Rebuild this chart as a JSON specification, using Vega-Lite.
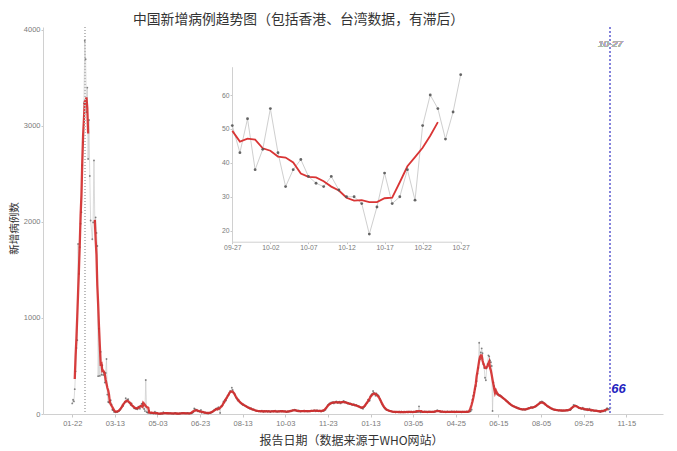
{
"$schema":"https://vega.github.io/schema/vega-lite/v6.json",
"width":620,"height":387,"autosize":"none",
"padding":{"left":43,"top":27,"right":14,"bottom":37},
"background":"white",
"config":{"view":{"stroke":null},"axis":{"grid":false,"domainColor":"#d0d0d0","tickColor":"#c8c8c8","labelColor":"#7a7a7a","labelFont":"Liberation Sans","titleFont":"Noto Sans CJK SC","titleFontWeight":"normal","titleColor":"#333333"}},
"title":{"text":"中国新增病例趋势图（包括香港、台湾数据，有滞后）","anchor":"start","frame":"group","dx":90,"offset":-1,"fontSize":13.8,"font":"Noto Sans CJK SC","fontWeight":"normal","color":"#333333"},
"data":{"values":[
{"d":"2020-01-22","n":110},{"d":"2020-01-23","n":149},{"d":"2020-01-24","n":131},{"d":"2020-01-25","n":259},{"d":"2020-01-26","n":444},{"d":"2020-01-27","n":688},{"d":"2020-01-28","n":769},{"d":"2020-01-29","n":1771},{"d":"2020-01-30","n":1459},{"d":"2020-01-31","n":1737},
{"d":"2020-02-01","n":1982},{"d":"2020-02-02","n":2102},{"d":"2020-02-03","n":2590},{"d":"2020-02-04","n":2829},{"d":"2020-02-05","n":3235},{"d":"2020-02-06","n":3887},{"d":"2020-02-07","n":3694},{"d":"2020-02-08","n":3143},{"d":"2020-02-09","n":3399},{"d":"2020-02-10","n":2656},{"d":"2020-02-11","n":3062},{"d":"2020-02-12","n":2478},{"d":"2020-02-13","n":2015},{"d":"2020-02-14","n":null},{"d":"2020-02-15","n":1820},{"d":"2020-02-16","n":1995},{"d":"2020-02-17","n":2641},{"d":"2020-02-18","n":2009},{"d":"2020-02-19","n":2048},{"d":"2020-02-20","n":1886},{"d":"2020-02-21","n":1749},{"d":"2020-02-22","n":394},{"d":"2020-02-23","n":889},{"d":"2020-02-24","n":397},{"d":"2020-02-25","n":648},{"d":"2020-02-26","n":409},{"d":"2020-02-27","n":508},{"d":"2020-02-28","n":406},{"d":"2020-02-29","n":433},
{"d":"2020-03-01","n":327},{"d":"2020-03-02","n":427},{"d":"2020-03-03","n":573},{"d":"2020-03-04","n":202},{"d":"2020-03-05","n":125},{"d":"2020-03-06","n":119},{"d":"2020-03-07","n":139},{"d":"2020-03-08","n":143},{"d":"2020-03-09","n":99},{"d":"2020-03-10","n":44},{"d":"2020-03-11","n":40},{"d":"2020-03-12","n":22},{"d":"2020-03-13","n":26},{"d":"2020-03-14","n":18},{"d":"2020-03-15","n":25},{"d":"2020-03-16","n":20},{"d":"2020-03-17","n":28},{"d":"2020-03-18","n":30},{"d":"2020-03-19","n":40},{"d":"2020-03-20","n":55},{"d":"2020-03-21","n":70},{"d":"2020-03-22","n":90},{"d":"2020-03-23","n":85},{"d":"2020-03-24","n":110},{"d":"2020-03-25","n":125},{"d":"2020-03-26","n":165},{"d":"2020-03-27","n":130},{"d":"2020-03-28","n":150},{"d":"2020-03-29","n":155},{"d":"2020-03-30","n":120},{"d":"2020-03-31","n":110},
{"d":"2020-04-01","n":95},{"d":"2020-04-02","n":110},{"d":"2020-04-03","n":85},{"d":"2020-04-04","n":80},{"d":"2020-04-05","n":60},{"d":"2020-04-06","n":60},{"d":"2020-04-07","n":55},{"d":"2020-04-08","n":55},{"d":"2020-04-09","n":50},{"d":"2020-04-10","n":75},{"d":"2020-04-11","n":72},{"d":"2020-04-12","n":55},{"d":"2020-04-13","n":80},{"d":"2020-04-14","n":105},{"d":"2020-04-15","n":110},{"d":"2020-04-16","n":85},{"d":"2020-04-17","n":52},{"d":"2020-04-18","n":30},{"d":"2020-04-19","n":354},{"d":"2020-04-20","n":20},{"d":"2020-04-21","n":15},{"d":"2020-04-22","n":14},{"d":"2020-04-23","n":32},{"d":"2020-04-24","n":12},{"d":"2020-04-25","n":8},{"d":"2020-04-26","n":14},{"d":"2020-04-27","n":12},{"d":"2020-04-28","n":5},{"d":"2020-04-29","n":8},{"d":"2020-04-30","n":24},
{"d":"2020-05-01","n":5},{"d":"2020-05-02","n":14},{"d":"2020-05-03","n":3},{"d":"2020-05-04","n":4},{"d":"2020-05-05","n":2},{"d":"2020-05-06","n":3},{"d":"2020-05-07","n":3},{"d":"2020-05-08","n":5},{"d":"2020-05-09","n":3},{"d":"2020-05-10","n":18},{"d":"2020-05-11","n":8},{"d":"2020-05-12","n":9},{"d":"2020-05-13","n":8},{"d":"2020-05-14","n":10},{"d":"2020-05-15","n":8},{"d":"2020-05-16","n":7},{"d":"2020-05-17","n":6},{"d":"2020-05-18","n":10},{"d":"2020-05-19","n":6},{"d":"2020-05-20","n":5},{"d":"2020-05-21","n":4},{"d":"2020-05-22","n":3},{"d":"2020-05-23","n":5},{"d":"2020-05-24","n":12},{"d":"2020-05-25","n":8},{"d":"2020-05-26","n":4},{"d":"2020-05-27","n":3},{"d":"2020-05-28","n":3},{"d":"2020-05-29","n":5},{"d":"2020-05-30","n":3},{"d":"2020-05-31","n":7},
{"d":"2020-06-01","n":12},{"d":"2020-06-02","n":10},{"d":"2020-06-03","n":8},{"d":"2020-06-04","n":6},{"d":"2020-06-05","n":7},{"d":"2020-06-06","n":7},{"d":"2020-06-07","n":8},{"d":"2020-06-08","n":10},{"d":"2020-06-09","n":6},{"d":"2020-06-10","n":5},{"d":"2020-06-11","n":4},{"d":"2020-06-12","n":11},{"d":"2020-06-13","n":8},{"d":"2020-06-14","n":14},{"d":"2020-06-15","n":20},{"d":"2020-06-16","n":57},{"d":"2020-06-17","n":49},{"d":"2020-06-18","n":40},{"d":"2020-06-19","n":44},{"d":"2020-06-20","n":28},{"d":"2020-06-21","n":32},{"d":"2020-06-22","n":25},{"d":"2020-06-23","n":26},{"d":"2020-06-24","n":42},{"d":"2020-06-25","n":13},{"d":"2020-06-26","n":22},{"d":"2020-06-27","n":19},{"d":"2020-06-28","n":13},{"d":"2020-06-29","n":17},{"d":"2020-06-30","n":12},
{"d":"2020-07-01","n":8},{"d":"2020-07-02","n":10},{"d":"2020-07-03","n":6},{"d":"2020-07-04","n":12},{"d":"2020-07-05","n":9},{"d":"2020-07-06","n":15},{"d":"2020-07-07","n":18},{"d":"2020-07-08","n":22},{"d":"2020-07-09","n":30},{"d":"2020-07-10","n":45},{"d":"2020-07-11","n":40},{"d":"2020-07-12","n":55},{"d":"2020-07-13","n":48},{"d":"2020-07-14","n":60},{"d":"2020-07-15","n":70},{"d":"2020-07-16","n":55},{"d":"2020-07-17","n":10},{"d":"2020-07-18","n":80},{"d":"2020-07-19","n":85},{"d":"2020-07-20","n":95},{"d":"2020-07-21","n":130},{"d":"2020-07-22","n":120},{"d":"2020-07-23","n":150},{"d":"2020-07-24","n":140},{"d":"2020-07-25","n":170},{"d":"2020-07-26","n":190},{"d":"2020-07-27","n":200},{"d":"2020-07-28","n":215},{"d":"2020-07-29","n":240},{"d":"2020-07-30","n":230},{"d":"2020-07-31","n":275},
{"d":"2020-08-01","n":250},{"d":"2020-08-02","n":225},{"d":"2020-08-03","n":210},{"d":"2020-08-04","n":195},{"d":"2020-08-05","n":170},{"d":"2020-08-06","n":160},{"d":"2020-08-07","n":140},{"d":"2020-08-08","n":150},{"d":"2020-08-09","n":130},{"d":"2020-08-10","n":120},{"d":"2020-08-11","n":110},{"d":"2020-08-12","n":105},{"d":"2020-08-13","n":95},{"d":"2020-08-14","n":100},{"d":"2020-08-15","n":90},{"d":"2020-08-16","n":85},{"d":"2020-08-17","n":80},{"d":"2020-08-18","n":75},{"d":"2020-08-19","n":70},{"d":"2020-08-20","n":65},{"d":"2020-08-21","n":60},{"d":"2020-08-22","n":55},{"d":"2020-08-23","n":60},{"d":"2020-08-24","n":50},{"d":"2020-08-25","n":45},{"d":"2020-08-26","n":48},{"d":"2020-08-27","n":40},{"d":"2020-08-28","n":38},{"d":"2020-08-29","n":35},{"d":"2020-08-30","n":32},{"d":"2020-08-31","n":30},
{"d":"2020-09-01","n":28},{"d":"2020-09-02","n":32},{"d":"2020-09-03","n":25},{"d":"2020-09-04","n":30},{"d":"2020-09-05","n":35},{"d":"2020-09-06","n":27},{"d":"2020-09-07","n":22},{"d":"2020-09-08","n":30},{"d":"2020-09-09","n":26},{"d":"2020-09-10","n":33},{"d":"2020-09-11","n":28},{"d":"2020-09-12","n":24},{"d":"2020-09-13","n":31},{"d":"2020-09-14","n":27},{"d":"2020-09-15","n":20},{"d":"2020-09-16","n":25},{"d":"2020-09-17","n":32},{"d":"2020-09-18","n":28},{"d":"2020-09-19","n":26},{"d":"2020-09-20","n":30},{"d":"2020-09-21","n":35},{"d":"2020-09-22","n":24},{"d":"2020-09-23","n":28},{"d":"2020-09-24","n":22},{"d":"2020-09-25","n":30},{"d":"2020-09-26","n":26},{"d":"2020-09-27","n":33},{"d":"2020-09-28","n":29},{"d":"2020-09-29","n":25},{"d":"2020-09-30","n":31},
{"d":"2020-10-01","n":25},{"d":"2020-10-02","n":30},{"d":"2020-10-03","n":28},{"d":"2020-10-04","n":22},{"d":"2020-10-05","n":20},{"d":"2020-10-06","n":26},{"d":"2020-10-07","n":24},{"d":"2020-10-08","n":30},{"d":"2020-10-09","n":35},{"d":"2020-10-10","n":28},{"d":"2020-10-11","n":32},{"d":"2020-10-12","n":40},{"d":"2020-10-13","n":38},{"d":"2020-10-14","n":45},{"d":"2020-10-15","n":42},{"d":"2020-10-16","n":35},{"d":"2020-10-17","n":30},{"d":"2020-10-18","n":28},{"d":"2020-10-19","n":36},{"d":"2020-10-20","n":30},{"d":"2020-10-21","n":25},{"d":"2020-10-22","n":28},{"d":"2020-10-23","n":32},{"d":"2020-10-24","n":30},{"d":"2020-10-25","n":35},{"d":"2020-10-26","n":27},{"d":"2020-10-27","n":33},{"d":"2020-10-28","n":29},{"d":"2020-10-29","n":31},{"d":"2020-10-30","n":26},{"d":"2020-10-31","n":30},
{"d":"2020-11-01","n":28},{"d":"2020-11-02","n":32},{"d":"2020-11-03","n":35},{"d":"2020-11-04","n":30},{"d":"2020-11-05","n":33},{"d":"2020-11-06","n":38},{"d":"2020-11-07","n":36},{"d":"2020-11-08","n":29},{"d":"2020-11-09","n":34},{"d":"2020-11-10","n":40},{"d":"2020-11-11","n":31},{"d":"2020-11-12","n":28},{"d":"2020-11-13","n":35},{"d":"2020-11-14","n":30},{"d":"2020-11-15","n":27},{"d":"2020-11-16","n":33},{"d":"2020-11-17","n":36},{"d":"2020-11-18","n":30},{"d":"2020-11-19","n":40},{"d":"2020-11-20","n":45},{"d":"2020-11-21","n":60},{"d":"2020-11-22","n":80},{"d":"2020-11-23","n":95},{"d":"2020-11-24","n":100},{"d":"2020-11-25","n":110},{"d":"2020-11-26","n":105},{"d":"2020-11-27","n":120},{"d":"2020-11-28","n":115},{"d":"2020-11-29","n":125},{"d":"2020-11-30","n":110},
{"d":"2020-12-01","n":118},{"d":"2020-12-02","n":125},{"d":"2020-12-03","n":130},{"d":"2020-12-04","n":120},{"d":"2020-12-05","n":115},{"d":"2020-12-06","n":125},{"d":"2020-12-07","n":128},{"d":"2020-12-08","n":110},{"d":"2020-12-09","n":118},{"d":"2020-12-10","n":122},{"d":"2020-12-11","n":130},{"d":"2020-12-12","n":135},{"d":"2020-12-13","n":120},{"d":"2020-12-14","n":125},{"d":"2020-12-15","n":118},{"d":"2020-12-16","n":112},{"d":"2020-12-17","n":108},{"d":"2020-12-18","n":115},{"d":"2020-12-19","n":105},{"d":"2020-12-20","n":110},{"d":"2020-12-21","n":100},{"d":"2020-12-22","n":95},{"d":"2020-12-23","n":98},{"d":"2020-12-24","n":102},{"d":"2020-12-25","n":90},{"d":"2020-12-26","n":88},{"d":"2020-12-27","n":95},{"d":"2020-12-28","n":85},{"d":"2020-12-29","n":80},{"d":"2020-12-30","n":78},{"d":"2020-12-31","n":75},
{"d":"2021-01-01","n":70},{"d":"2021-01-02","n":65},{"d":"2021-01-03","n":60},{"d":"2021-01-04","n":55},{"d":"2021-01-05","n":70},{"d":"2021-01-06","n":80},{"d":"2021-01-07","n":95},{"d":"2021-01-08","n":110},{"d":"2021-01-09","n":120},{"d":"2021-01-10","n":150},{"d":"2021-01-11","n":135},{"d":"2021-01-12","n":140},{"d":"2021-01-13","n":185},{"d":"2021-01-14","n":200},{"d":"2021-01-15","n":210},{"d":"2021-01-16","n":240},{"d":"2021-01-17","n":222},{"d":"2021-01-18","n":205},{"d":"2021-01-19","n":190},{"d":"2021-01-20","n":215},{"d":"2021-01-21","n":200},{"d":"2021-01-22","n":195},{"d":"2021-01-23","n":185},{"d":"2021-01-24","n":160},{"d":"2021-01-25","n":140},{"d":"2021-01-26","n":120},{"d":"2021-01-27","n":100},{"d":"2021-01-28","n":85},{"d":"2021-01-29","n":70},{"d":"2021-01-30","n":60},{"d":"2021-01-31","n":50},
{"d":"2021-02-01","n":45},{"d":"2021-02-02","n":40},{"d":"2021-02-03","n":38},{"d":"2021-02-04","n":35},{"d":"2021-02-05","n":32},{"d":"2021-02-06","n":30},{"d":"2021-02-07","n":28},{"d":"2021-02-08","n":25},{"d":"2021-02-09","n":22},{"d":"2021-02-10","n":20},{"d":"2021-02-11","n":24},{"d":"2021-02-12","n":18},{"d":"2021-02-13","n":20},{"d":"2021-02-14","n":22},{"d":"2021-02-15","n":19},{"d":"2021-02-16","n":25},{"d":"2021-02-17","n":20},{"d":"2021-02-18","n":18},{"d":"2021-02-19","n":23},{"d":"2021-02-20","n":21},{"d":"2021-02-21","n":17},{"d":"2021-02-22","n":20},{"d":"2021-02-23","n":24},{"d":"2021-02-24","n":19},{"d":"2021-02-25","n":22},{"d":"2021-02-26","n":18},{"d":"2021-02-27","n":21},{"d":"2021-02-28","n":25},
{"d":"2021-03-01","n":22},{"d":"2021-03-02","n":18},{"d":"2021-03-03","n":25},{"d":"2021-03-04","n":20},{"d":"2021-03-05","n":17},{"d":"2021-03-06","n":23},{"d":"2021-03-07","n":19},{"d":"2021-03-08","n":26},{"d":"2021-03-09","n":21},{"d":"2021-03-10","n":24},{"d":"2021-03-11","n":20},{"d":"2021-03-12","n":80},{"d":"2021-03-13","n":22},{"d":"2021-03-14","n":18},{"d":"2021-03-15","n":25},{"d":"2021-03-16","n":21},{"d":"2021-03-17","n":19},{"d":"2021-03-18","n":23},{"d":"2021-03-19","n":27},{"d":"2021-03-20","n":20},{"d":"2021-03-21","n":24},{"d":"2021-03-22","n":18},{"d":"2021-03-23","n":22},{"d":"2021-03-24","n":26},{"d":"2021-03-25","n":20},{"d":"2021-03-26","n":23},{"d":"2021-03-27","n":19},{"d":"2021-03-28","n":25},{"d":"2021-03-29","n":21},{"d":"2021-03-30","n":24},{"d":"2021-03-31","n":20},
{"d":"2021-04-01","n":28},{"d":"2021-04-02","n":35},{"d":"2021-04-03","n":40},{"d":"2021-04-04","n":30},{"d":"2021-04-05","n":32},{"d":"2021-04-06","n":26},{"d":"2021-04-07","n":24},{"d":"2021-04-08","n":22},{"d":"2021-04-09","n":27},{"d":"2021-04-10","n":20},{"d":"2021-04-11","n":25},{"d":"2021-04-12","n":23},{"d":"2021-04-13","n":18},{"d":"2021-04-14","n":21},{"d":"2021-04-15","n":26},{"d":"2021-04-16","n":22},{"d":"2021-04-17","n":19},{"d":"2021-04-18","n":24},{"d":"2021-04-19","n":20},{"d":"2021-04-20","n":27},{"d":"2021-04-21","n":23},{"d":"2021-04-22","n":21},{"d":"2021-04-23","n":25},{"d":"2021-04-24","n":18},{"d":"2021-04-25","n":22},{"d":"2021-04-26","n":26},{"d":"2021-04-27","n":20},{"d":"2021-04-28","n":24},{"d":"2021-04-29","n":19},{"d":"2021-04-30","n":23},
{"d":"2021-05-01","n":21},{"d":"2021-05-02","n":18},{"d":"2021-05-03","n":25},{"d":"2021-05-04","n":20},{"d":"2021-05-05","n":23},{"d":"2021-05-06","n":19},{"d":"2021-05-07","n":22},{"d":"2021-05-08","n":26},{"d":"2021-05-09","n":20},{"d":"2021-05-10","n":24},{"d":"2021-05-11","n":28},{"d":"2021-05-12","n":25},{"d":"2021-05-13","n":30},{"d":"2021-05-14","n":45},{"d":"2021-05-15","n":150},{"d":"2021-05-16","n":190},{"d":"2021-05-17","n":222},{"d":"2021-05-18","n":260},{"d":"2021-05-19","n":291},{"d":"2021-05-20","n":343},{"d":"2021-05-21","n":420},{"d":"2021-05-22","n":480},{"d":"2021-05-23","n":742},{"d":"2021-05-24","n":570},{"d":"2021-05-25","n":640},{"d":"2021-05-26","n":684},{"d":"2021-05-27","n":632},{"d":"2021-05-28","n":520},{"d":"2021-05-29","n":480},{"d":"2021-05-30","n":378},{"d":"2021-05-31","n":351},
{"d":"2021-06-01","n":480},{"d":"2021-06-02","n":520},{"d":"2021-06-03","n":611},{"d":"2021-06-04","n":600},{"d":"2021-06-05","n":559},{"d":"2021-06-06","n":540},{"d":"2021-06-07","n":500},{"d":"2021-06-08","n":31},{"d":"2021-06-09","n":330},{"d":"2021-06-10","n":290},{"d":"2021-06-11","n":250},{"d":"2021-06-12","n":230},{"d":"2021-06-13","n":210},{"d":"2021-06-14","n":200},{"d":"2021-06-15","n":205},{"d":"2021-06-16","n":190},{"d":"2021-06-17","n":195},{"d":"2021-06-18","n":185},{"d":"2021-06-19","n":180},{"d":"2021-06-20","n":170},{"d":"2021-06-21","n":165},{"d":"2021-06-22","n":155},{"d":"2021-06-23","n":150},{"d":"2021-06-24","n":140},{"d":"2021-06-25","n":135},{"d":"2021-06-26","n":125},{"d":"2021-06-27","n":120},{"d":"2021-06-28","n":110},{"d":"2021-06-29","n":105},{"d":"2021-06-30","n":95},
{"d":"2021-07-01","n":90},{"d":"2021-07-02","n":85},{"d":"2021-07-03","n":80},{"d":"2021-07-04","n":78},{"d":"2021-07-05","n":72},{"d":"2021-07-06","n":70},{"d":"2021-07-07","n":65},{"d":"2021-07-08","n":60},{"d":"2021-07-09","n":62},{"d":"2021-07-10","n":55},{"d":"2021-07-11","n":52},{"d":"2021-07-12","n":50},{"d":"2021-07-13","n":48},{"d":"2021-07-14","n":45},{"d":"2021-07-15","n":50},{"d":"2021-07-16","n":47},{"d":"2021-07-17","n":44},{"d":"2021-07-18","n":48},{"d":"2021-07-19","n":52},{"d":"2021-07-20","n":55},{"d":"2021-07-21","n":60},{"d":"2021-07-22","n":58},{"d":"2021-07-23","n":65},{"d":"2021-07-24","n":70},{"d":"2021-07-25","n":68},{"d":"2021-07-26","n":65},{"d":"2021-07-27","n":70},{"d":"2021-07-28","n":72},{"d":"2021-07-29","n":78},{"d":"2021-07-30","n":80},{"d":"2021-07-31","n":88},
{"d":"2021-08-01","n":95},{"d":"2021-08-02","n":105},{"d":"2021-08-03","n":110},{"d":"2021-08-04","n":125},{"d":"2021-08-05","n":120},{"d":"2021-08-06","n":130},{"d":"2021-08-07","n":125},{"d":"2021-08-08","n":115},{"d":"2021-08-09","n":110},{"d":"2021-08-10","n":100},{"d":"2021-08-11","n":95},{"d":"2021-08-12","n":85},{"d":"2021-08-13","n":80},{"d":"2021-08-14","n":75},{"d":"2021-08-15","n":70},{"d":"2021-08-16","n":62},{"d":"2021-08-17","n":58},{"d":"2021-08-18","n":55},{"d":"2021-08-19","n":50},{"d":"2021-08-20","n":48},{"d":"2021-08-21","n":45},{"d":"2021-08-22","n":44},{"d":"2021-08-23","n":42},{"d":"2021-08-24","n":40},{"d":"2021-08-25","n":38},{"d":"2021-08-26","n":36},{"d":"2021-08-27","n":40},{"d":"2021-08-28","n":35},{"d":"2021-08-29","n":38},{"d":"2021-08-30","n":34},{"d":"2021-08-31","n":36},
{"d":"2021-09-01","n":35},{"d":"2021-09-02","n":38},{"d":"2021-09-03","n":33},{"d":"2021-09-04","n":40},{"d":"2021-09-05","n":36},{"d":"2021-09-06","n":42},{"d":"2021-09-07","n":38},{"d":"2021-09-08","n":45},{"d":"2021-09-09","n":40},{"d":"2021-09-10","n":50},{"d":"2021-09-11","n":65},{"d":"2021-09-12","n":70},{"d":"2021-09-13","n":95},{"d":"2021-09-14","n":88},{"d":"2021-09-15","n":90},{"d":"2021-09-16","n":85},{"d":"2021-09-17","n":80},{"d":"2021-09-18","n":72},{"d":"2021-09-19","n":65},{"d":"2021-09-20","n":60},{"d":"2021-09-21","n":62},{"d":"2021-09-22","n":55},{"d":"2021-09-23","n":58},{"d":"2021-09-24","n":66},{"d":"2021-09-25","n":50},{"d":"2021-09-26","n":45},{"d":"2021-09-27","n":51},{"d":"2021-09-28","n":43},{"d":"2021-09-29","n":53},{"d":"2021-09-30","n":38},
{"d":"2021-10-01","n":44},{"d":"2021-10-02","n":56},{"d":"2021-10-03","n":43},{"d":"2021-10-04","n":33},{"d":"2021-10-05","n":38},{"d":"2021-10-06","n":41},{"d":"2021-10-07","n":36},{"d":"2021-10-08","n":34},{"d":"2021-10-09","n":33},{"d":"2021-10-10","n":36},{"d":"2021-10-11","n":32},{"d":"2021-10-12","n":30},{"d":"2021-10-13","n":30},{"d":"2021-10-14","n":28},{"d":"2021-10-15","n":19},{"d":"2021-10-16","n":27},{"d":"2021-10-17","n":37},{"d":"2021-10-18","n":28},{"d":"2021-10-19","n":30},{"d":"2021-10-20","n":38},{"d":"2021-10-21","n":29},{"d":"2021-10-22","n":51},{"d":"2021-10-23","n":60},{"d":"2021-10-24","n":56},{"d":"2021-10-25","n":47},{"d":"2021-10-26","n":55},{"d":"2021-10-27","n":66}
]},
"transform":[
{"window":[{"op":"mean","field":"n","as":"ma"},{"op":"valid","field":"n","as":"vc"}],"frame":[-3,3],"sort":[{"field":"d"}]},
{"window":[{"op":"missing","field":"n","as":"seg"}],"frame":[null,0],"sort":[{"field":"d"}]}
],
"layer":[
{"layer":[
 {"mark":{"type":"line","color":"#c2c2c2","strokeWidth":0.6,"invalid":"filter"},
  "encoding":{
   "x":{"field":"d","type":"temporal",
     "scale":{"type":"utc","domain":[{"year":2019,"month":12,"date":18,"utc":true},{"year":2021,"month":12,"date":29,"utc":true}]},
     "axis":{"values":[{"year":2020,"month":1,"date":22,"utc":true},{"year":2020,"month":3,"date":13,"utc":true},{"year":2020,"month":5,"date":3,"utc":true},{"year":2020,"month":6,"date":23,"utc":true},{"year":2020,"month":8,"date":13,"utc":true},{"year":2020,"month":10,"date":3,"utc":true},{"year":2020,"month":11,"date":23,"utc":true},{"year":2021,"month":1,"date":13,"utc":true},{"year":2021,"month":3,"date":5,"utc":true},{"year":2021,"month":4,"date":25,"utc":true},{"year":2021,"month":6,"date":15,"utc":true},{"year":2021,"month":8,"date":5,"utc":true},{"year":2021,"month":9,"date":25,"utc":true},{"year":2021,"month":11,"date":15,"utc":true}],
       "format":"%m-%d","labelFontSize":7.5,"tickSize":3,"labelPadding":2,"labelFlush":false,"labelOverlap":false,
       "title":"报告日期（数据来源于WHO网站）","titleFontSize":12,"titleX":308,"titleY":26,"titleAlign":"center","titleBaseline":"middle"}},
   "y":{"field":"n","type":"quantitative",
     "scale":{"domain":[0,4030],"nice":false,"zero":false},
     "axis":{"values":[0,1000,2000,3000,4000],"format":"d","labelFontSize":7.5,"tickSize":2,"labelPadding":1,
       "title":"新增病例数","titleFontSize":10.5,"titleX":-29,"titleY":201,"titleAlign":"center","titleBaseline":"middle","titleAngle":-90}}}},
 {"mark":{"type":"point","filled":true,"size":3.5,"color":"#555555","opacity":0.7},
  "encoding":{"x":{"field":"d","type":"temporal"},"y":{"field":"n","type":"quantitative"}}},
 {"transform":[{"filter":"datum.vc == 7"}],
  "mark":{"type":"line","color":"#d42a2a","strokeWidth":2.3,"opacity":0.9},
  "encoding":{"x":{"field":"d","type":"temporal"},"y":{"field":"ma","type":"quantitative"},"detail":{"field":"seg","type":"nominal"}}},
 {"mark":{"type":"rule","color":"#bdbdbd","strokeDash":[1,2],"strokeWidth":0.8},
  "encoding":{"x":{"datum":{"year":2020,"month":2,"date":6,"utc":true},"type":"temporal"}}},
 {"mark":{"type":"rule","color":"#8585dd","strokeDash":[2,2],"strokeWidth":0.9},
  "encoding":{"x":{"datum":{"year":2021,"month":10,"date":27,"utc":true},"type":"temporal"}}},
 {"mark":{"type":"text","color":"#b0b0b0","fontSize":9.5,"fontStyle":"italic","font":"Liberation Sans","align":"center","baseline":"middle"},
  "encoding":{"x":{"datum":{"year":2021,"month":10,"date":27,"utc":true},"type":"temporal"},"y":{"datum":3850,"type":"quantitative"},"text":{"value":"10-27"}}},
 {"transform":[{"filter":"time(datum.d) == utc(2021, 9, 27)"}],
  "mark":{"type":"text","color":"#1f1fc0","fontSize":13,"fontStyle":"italic","fontWeight":"bold","font":"Liberation Sans","align":"left","baseline":"alphabetic","dx":1,"dy":-15},
  "encoding":{"x":{"field":"d","type":"temporal"},"y":{"field":"n","type":"quantitative"},"text":{"field":"n","type":"quantitative"}}}
]},
{"transform":[{"filter":"time(datum.d) >= utc(2021, 8, 27)"}],
 "layer":[
 {"mark":{"type":"line","color":"#cfcfcf","strokeWidth":1},
  "encoding":{
   "x":{"field":"d","type":"temporal",
     "scale":{"type":"utc","domain":[{"year":2021,"month":9,"date":27,"utc":true},{"year":2021,"month":10,"date":27,"utc":true}],"range":[189.3,417.7]},
     "axis":{"orient":"bottom","offset":-172.3,"values":[{"year":2021,"month":9,"date":27,"utc":true},{"year":2021,"month":10,"date":2,"utc":true},{"year":2021,"month":10,"date":7,"utc":true},{"year":2021,"month":10,"date":12,"utc":true},{"year":2021,"month":10,"date":17,"utc":true},{"year":2021,"month":10,"date":22,"utc":true},{"year":2021,"month":10,"date":27,"utc":true}],
       "format":"%m-%d","labelFontSize":6.8,"tickSize":2,"labelPadding":1,"labelFlush":false,"labelOverlap":false,"title":null}},
   "y":{"field":"n","type":"quantitative",
     "scale":{"domain":[16.76,68.35],"range":[214.7,39.7],"nice":false,"zero":false},
     "axis":{"orient":"left","offset":-189,"values":[20,30,40,50,60],"labelFontSize":6.8,"tickSize":2,"labelPadding":1,"title":null}}}},
 {"transform":[{"filter":"datum.vc == 7"}],
  "mark":{"type":"line","color":"#d93535","strokeWidth":1.8},
  "encoding":{"x":{"field":"d","type":"temporal"},"y":{"field":"ma","type":"quantitative"}}},
 {"mark":{"type":"point","filled":true,"size":8,"color":"#555555","opacity":0.9},
  "encoding":{"x":{"field":"d","type":"temporal"},"y":{"field":"n","type":"quantitative"}}}
 ]}
],
"resolve":{"scale":{"x":"independent","y":"independent"},"axis":{"x":"independent","y":"independent"}}
}
